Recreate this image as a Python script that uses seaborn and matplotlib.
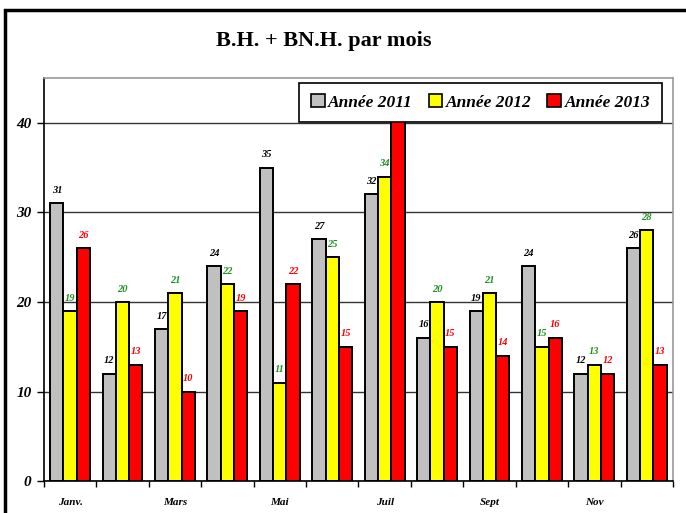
import pandas as pd
import numpy as np
import matplotlib
matplotlib.use("Agg")
import matplotlib.pyplot as plt
import seaborn as sns
from matplotlib.patches import Rectangle, Patch

mois = ["Janv.", "Févr.", "Mars", "Avr.", "Mai", "Juin",
        "Juil", "Août", "Sept", "Oct", "Nov", "Déc."]
tick_labels = ["Janv.", "", "Mars", "", "Mai", "", "Juil", "", "Sept", "", "Nov", ""]
annees = ["Année 2011", "Année 2012", "Année 2013"]
v2011 = [31, 12, 17, 24, 35, 27, 32, 16, 19, 24, 12, 26]
v2012 = [19, 20, 21, 22, 11, 25, 34, 20, 21, 15, 13, 28]
v2013 = [26, 13, 10, 19, 22, 15, 42, 15, 14, 16, 12, 13]
couleurs = ["#c0c0c0", "#ffff00", "#ff0000"]
couleurs_txt = ["black", "#1f8f1f", "#ff0000"]

df = pd.DataFrame({
    "mois": mois * 3,
    "annee": [annees[0]] * 12 + [annees[1]] * 12 + [annees[2]] * 12,
    "valeur": v2011 + v2012 + v2013,
})

sns.set_style("white")
plt.rcParams["font.family"] = ["Liberation Serif", "DejaVu Serif"]
plt.rcParams.update({"text.color": "black", "axes.labelcolor": "black",
                     "xtick.color": "black", "ytick.color": "black"})

fig = plt.figure(figsize=(6.86, 5.13), dpi=100)
ax = fig.add_axes([0.064, 0.062, 0.917, 0.786])

sns.barplot(data=df, x="mois", y="valeur", hue="annee", palette=couleurs,
            width=0.76, edgecolor="black", linewidth=1.4, ax=ax,
            legend=False, errorbar=None, saturation=1)

ax.set_ylim(0, 45)
ax.set_xlim(-0.5, 11.5)
ax.set_yticks([0, 10, 20, 30, 40])
ax.set_yticklabels(["0", "10", "20", "30", "40"], fontsize=11,
                   fontweight="bold", fontstyle="italic")
ax.yaxis.grid(True, color="#333333", linewidth=1)
ax.set_axisbelow(True)
ax.tick_params(axis="y", left=True, length=5, width=1, pad=4)

ax.set_xticks(range(12))
ax.set_xticklabels(tick_labels, fontsize=8, fontweight="bold", fontstyle="italic")
ax.tick_params(axis="x", which="major", length=0, pad=12)
ax.set_xticks(np.arange(-0.5, 12, 1), minor=True)
ax.tick_params(axis="x", which="minor", bottom=True, length=4, width=1)
ax.set_xlabel("")
ax.set_ylabel("")

for side in ["top", "right"]:
    ax.spines[side].set_color("#999999")
    ax.spines[side].set_linewidth(1.2)
for side in ["left", "bottom"]:
    ax.spines[side].set_color("black")
    ax.spines[side].set_linewidth(1.2)

for cont, col in zip(ax.containers, couleurs_txt):
    ax.bar_label(cont, color=col, fontsize=7.5, fontweight="bold",
                 fontstyle="italic", padding=6, clip_on=False)

handles = [Patch(facecolor=c, edgecolor="black", linewidth=1.2) for c in couleurs]
leg = ax.legend(handles, annees, loc="upper right", bbox_to_anchor=(0.982, 0.988),
                ncol=3, frameon=True, fancybox=False, edgecolor="black",
                framealpha=1, facecolor="white",
                prop={"size": 12.5, "weight": "bold", "style": "italic"},
                handlelength=0.8, handleheight=0.8, handletextpad=0.2,
                columnspacing=0.9, borderpad=0.65, borderaxespad=0)
leg.get_frame().set_linewidth(1.2)
leg.set_zorder(10)

fig.text(0.472, 0.92, "B.H. + BN.H. par mois", ha="center", va="center",
         fontsize=16, fontweight="bold", color="black")

fig.patches.append(Rectangle((5 / 686, -0.02), 1.0, 1 - 10 / 513 + 0.02,
                             transform=fig.transFigure, fill=False,
                             edgecolor="black", linewidth=2.5))

fig.savefig("out.png", dpi=100)
